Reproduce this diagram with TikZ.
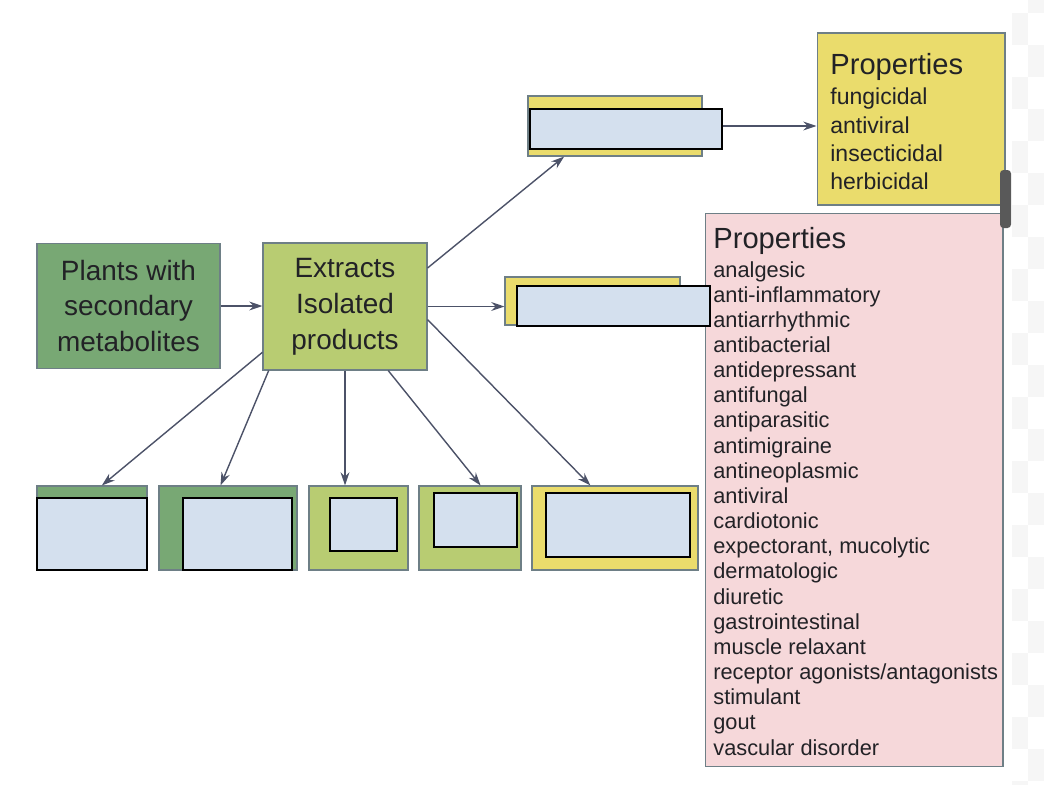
\documentclass[tikz,border=0pt]{standalone}
\usepackage{fontspec}
\setmainfont{Liberation Sans}
\usetikzlibrary{arrows.meta}

\definecolor{plantgreen}{HTML}{78A874}
\definecolor{extgreen}{HTML}{B8CC72}
\definecolor{propyellow}{HTML}{EADC6C}
\definecolor{proppink}{HTML}{F6D8DA}
\definecolor{boxedge}{HTML}{6E7F86}
\definecolor{wirecol}{HTML}{4C5268}
\definecolor{coverblue}{HTML}{D4E0EE}
\definecolor{checker}{HTML}{F6F6F6}
\definecolor{inkcol}{HTML}{222226}

\begin{document}
\begin{tikzpicture}[x=0.02cm, y=-0.02cm,
    box/.style={shape=rectangle, draw=boxedge, line width=0.6pt, inner sep=0pt, align=center, text=inkcol, font=\fontsize{15.9}{20.4}\selectfont},
    item/.style={anchor=base west, inner sep=0pt, text=inkcol},
    wire/.style={draw=wirecol, line width=0.8pt, -{Stealth[length=7.5pt,width=5pt]}},
    cover/.style={draw=black, line width=1.2pt, fill=coverblue}]
        \useasboundingbox (0, 0) rectangle (1044, 784);
        % Background squares on the right edge:
        \foreach \r in {-19, 45, ..., 781} \fill[checker] (1028, \r) rectangle ++(16, 32);
        \foreach \r in {13, 77, ..., 781} \fill[checker] (1012, \r) rectangle ++(16, 32);
        % Boxes:
        \node[box, fill=plantgreen, minimum width=3.66cm, minimum height=2.5cm](plants) at (128.5, 306){Plants with\\secondary\\metabolites};
        \node[box, fill=extgreen, minimum width=3.28cm, minimum height=2.54cm](ext) at (345, 306.5){Extracts\\Isolated\\products};
        \node[box, fill=propyellow, minimum width=3.48cm, minimum height=1.2cm](topbox) at (615, 126){};
        \node[box, fill=propyellow, minimum width=3.5cm, minimum height=0.96cm](midbox) at (592.5, 301){};
        \node[box, fill=propyellow, minimum width=3.76cm, minimum height=3.44cm](props1) at (911, 119){};
        \node[box, fill=proppink, minimum width=5.96cm, minimum height=11.08cm](props2) at (854, 490){};
        \node[box, fill=plantgreen, minimum width=2.2cm, minimum height=1.68cm](b1) at (92, 528){};
        \node[box, fill=plantgreen, minimum width=2.76cm, minimum height=1.68cm](b2) at (228, 528){};
        \node[box, fill=extgreen, minimum width=1.98cm, minimum height=1.68cm](b3) at (358.5, 528){};
        \node[box, fill=extgreen, minimum width=2.04cm, minimum height=1.68cm](b4) at (470, 528){};
        \node[box, fill=propyellow, minimum width=3.32cm, minimum height=1.68cm](b5) at (615, 528){};
        % Property lists:
        \node[item, font=\fontsize{16.6}{17}\selectfont](h1) at (830, 74){Properties};
        \foreach \w [count=\k] in {fungicidal, antiviral, insecticidal, herbicidal}
            \node[item, font=\fontsize{13.1}{15}\selectfont](y\k) at (830, {105+28.3*(\k-1)}){\w};
        \node[item, font=\fontsize{16.6}{17}\selectfont](h2) at (713, 248){Properties};
        \foreach \w [count=\k] in {analgesic, anti-inflammatory, antiarrhythmic, antibacterial, antidepressant, antifungal, antiparasitic, antimigraine, antineoplasmic, antiviral, cardiotonic, {expectorant, mucolytic}, dermatologic, diuretic, gastrointestinal, muscle relaxant, receptor agonists/antagonists, stimulant, gout, vascular disorder}
            \node[item, font=\fontsize{12.4}{14}\selectfont](p\k) at (713, {277+25.16*(\k-1)}){\w};
        % Arrows:
        \draw[wire] (plants.east) -- (plants.east -| ext.west);
        \draw[wire] (ext.25) -- (topbox.211);
        \draw[wire] (ext.east) -- (ext.east -| midbox.west);
        \draw[wire] (topbox.east) -- (topbox.east -| props1.west);
        \draw[wire] (ext.209) -- (b1.77);
        \draw[wire] (ext.220) -- (b2.100);
        \draw[wire] (ext.south) -- (ext.south |- b3.north);
        \draw[wire] (ext.304) -- (b4.76);
        \draw[wire] (ext.351) -- (b5.120);
        % Covered labels:
        \draw[cover] (530, 109) rectangle (722, 149);
        \draw[cover] (517, 286) rectangle (710, 326);
        \draw[cover] (37, 498) rectangle (147, 570);
        \draw[cover] (183, 498) rectangle (292, 570);
        \draw[cover] (330, 498) rectangle (397, 551);
        \draw[cover] (434, 493) rectangle (517, 547);
        \draw[cover] (546, 493) rectangle (690, 557);
        % Scroll mark:
        \fill[black!65, rounded corners=2pt] (1000, 170) rectangle (1011, 228);
    \end{tikzpicture}
\end{document}
